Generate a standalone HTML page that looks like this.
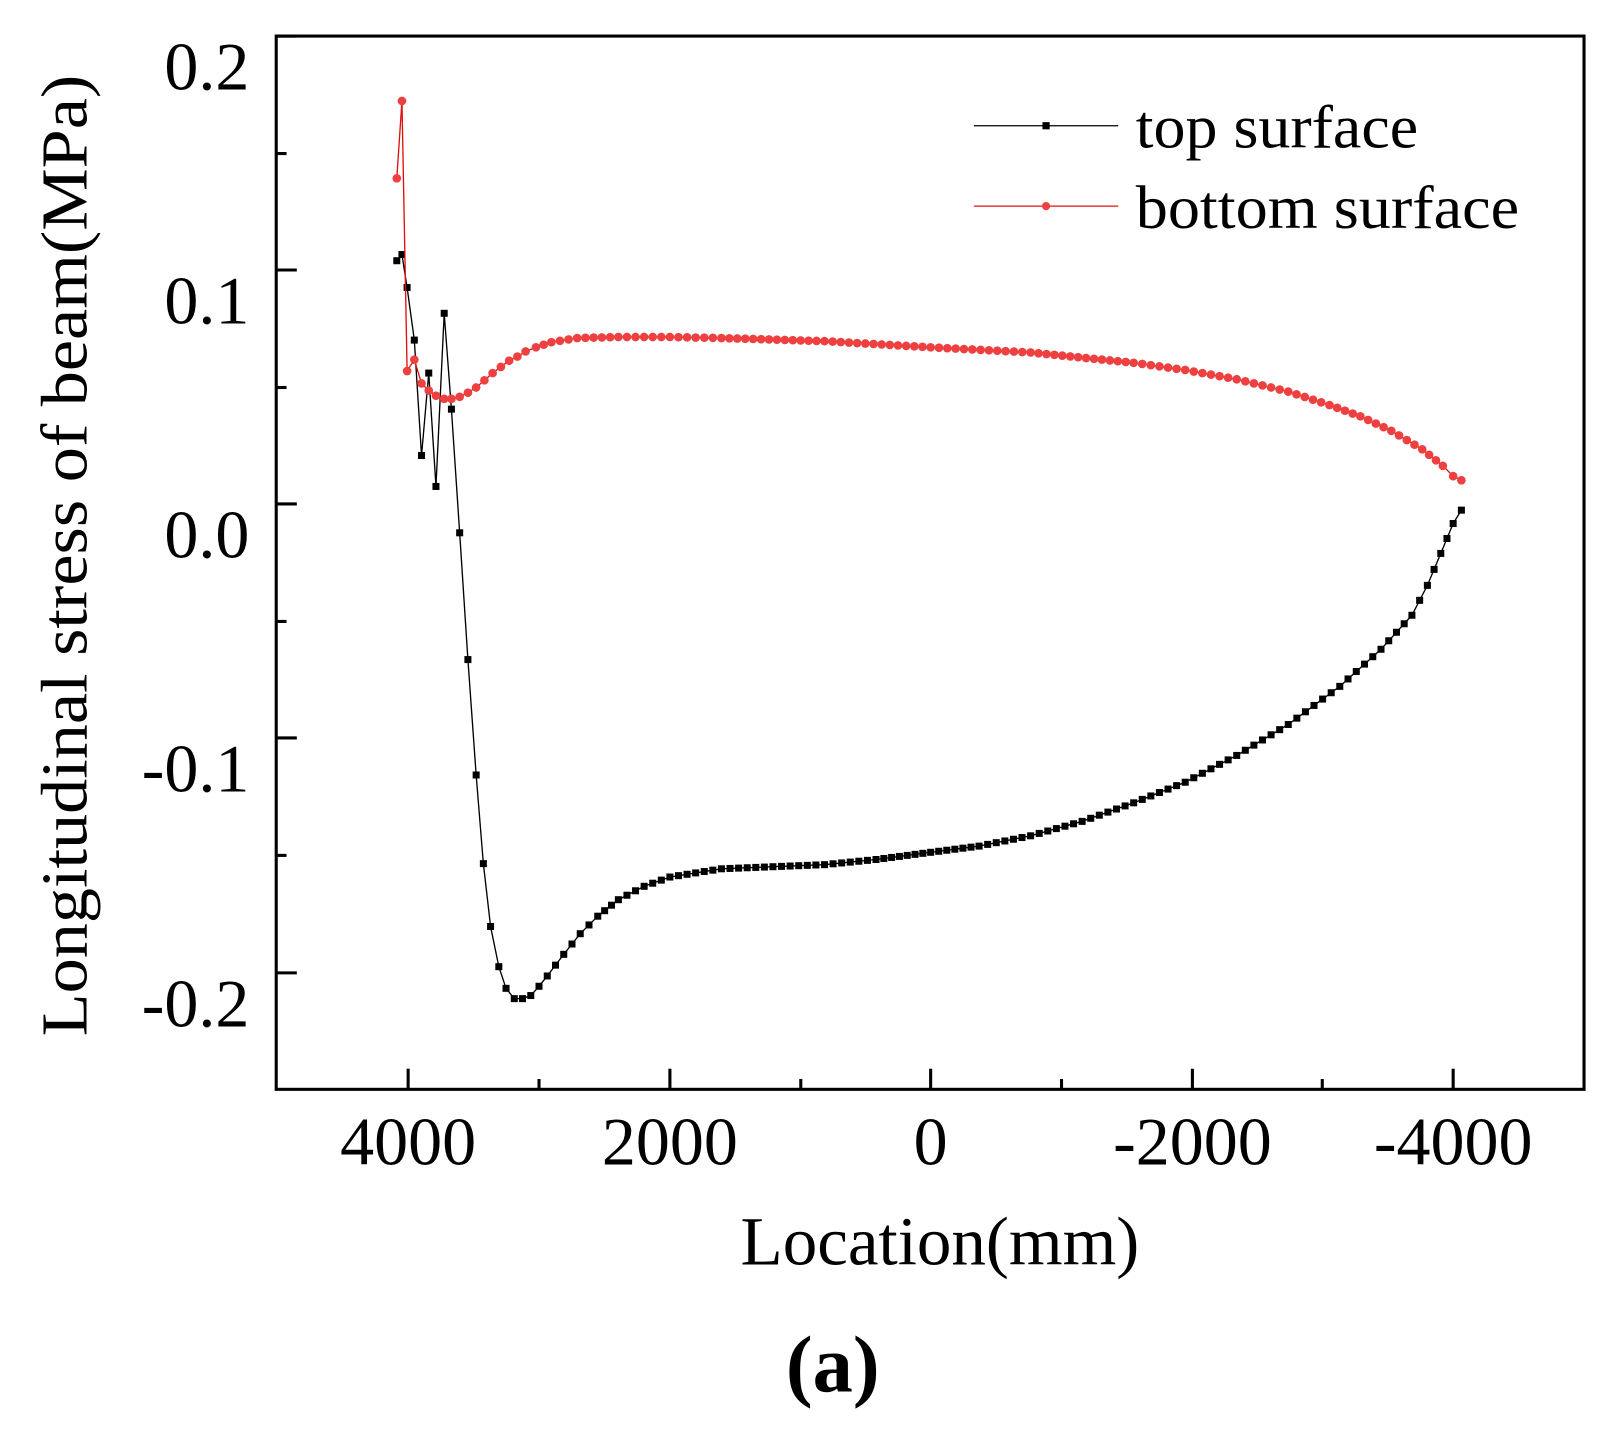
<!DOCTYPE html>
<html><head><meta charset="utf-8"><style>
html,body{margin:0;padding:0;background:#fff;}
svg{display:block;}
text{font-family:"Liberation Serif",serif;fill:#000;}
</style></head><body>
<svg id="s" width="1616" height="1432" viewBox="0 0 1568 1389.5" xmlns="http://www.w3.org/2000/svg">
<rect x="268" y="35" width="1269" height="1022" fill="none" stroke="#000" stroke-width="3"/>
<g stroke="#000" stroke-width="3">
<line x1="268" y1="35" x2="288" y2="35"/>
<line x1="268" y1="262" x2="288" y2="262"/>
<line x1="268" y1="489" x2="288" y2="489"/>
<line x1="268" y1="716" x2="288" y2="716"/>
<line x1="268" y1="944" x2="288" y2="944"/>
<line x1="268" y1="149" x2="278" y2="149"/>
<line x1="268" y1="376" x2="278" y2="376"/>
<line x1="268" y1="603" x2="278" y2="603"/>
<line x1="268" y1="830" x2="278" y2="830"/>
<line x1="396" y1="1057" x2="396" y2="1037"/>
<line x1="650" y1="1057" x2="650" y2="1037"/>
<line x1="903" y1="1057" x2="903" y2="1037"/>
<line x1="1157" y1="1057" x2="1157" y2="1037"/>
<line x1="1410" y1="1057" x2="1410" y2="1037"/>
<line x1="523" y1="1057" x2="523" y2="1047"/>
<line x1="777" y1="1057" x2="777" y2="1047"/>
<line x1="1030" y1="1057" x2="1030" y2="1047"/>
<line x1="1283" y1="1057" x2="1283" y2="1047"/>
</g>
<g font-size="66" text-anchor="end">
<text x="242" y="87">0.2</text>
<text x="242" y="314">0.1</text>
<text x="242" y="541">0.0</text>
<text x="242" y="768">-0.1</text>
<text x="242" y="996">-0.2</text>
</g>
<g font-size="66" text-anchor="middle">
<text x="396" y="1130">4000</text>
<text x="650" y="1130">2000</text>
<text x="903" y="1130">0</text>
<text x="1157" y="1130">-2000</text>
<text x="1410" y="1130">-4000</text>
<text x="912" y="1227" font-size="67">Location(mm)</text>
<text x="808" y="1350" font-size="78" font-weight="bold">(a)</text>
</g>
<text transform="translate(84,539) rotate(-90)" text-anchor="middle" font-size="64" textLength="933" lengthAdjust="spacingAndGlyphs">Longitudinal stress of  beam(MPa)</text>
<line x1="945" y1="122" x2="1085" y2="122" stroke="#000" stroke-width="1.2"/>
<rect x="1011.5" y="118.5" width="7" height="7" fill="#000"/>
<line x1="945" y1="200" x2="1085" y2="200" stroke="#e01010" stroke-width="1.2"/>
<circle cx="1015" cy="200" r="4" fill="#ee4040"/>
<text x="1102" y="143" font-size="60" textLength="274" lengthAdjust="spacingAndGlyphs">top surface</text>
<text x="1102" y="221" font-size="60" textLength="372" lengthAdjust="spacingAndGlyphs">bottom surface</text>
<g id="g"></g>
</svg>
<script>
var NS="http://www.w3.org/2000/svg",g=document.getElementById('g');
function expand(pre,knots,step){var pts=pre.slice();for(var i=0;i<knots.length-1;i++){var a=knots[i],b=knots[i+1],n=Math.max(1,Math.round((b[0]-a[0])/step));for(var k=(i==0?0:1);k<=n;k++){var t=k/n;pts.push([a[0]+(b[0]-a[0])*t,a[1]+(b[1]-a[1])*t]);}}return pts;}
var top1=[[385,253],[390,247],[395,279],[402,330],[409,442],[416,362],[423,472],[431,304],[438,397],[446,517],[454,640],[462,752],[469,838],[476,899],[484,938],[491,959]];
var topK=[[499,969],[507,969],[515,966],[523,957],[531,947],[547,926],[563,906],[580,889],[600,873],[625,860],[650,851],[700,843],[750,841],[800,839],[850,834],[903,827],[950,821],[1000,811],[1050,797],[1100,779],[1150,759],[1200,733],[1250,703],[1300,666],[1340,630],[1370,597],[1385,568],[1398,537],[1410,508],[1418,495]];
var bot1=[[385,173],[390,98],[395,360],[402,349],[409,372],[416,379],[423,384]];
var botK=[[431,387],[438,387],[446,385],[454,381],[462,376],[470,369],[478,362],[486,356],[494,350],[502,346],[510,341],[520,337],[535,332],[560,328],[600,327],[650,327],[700,328],[800,331],[903,337],[1000,342],[1100,352],[1150,359],[1200,368],[1250,380],[1290,393],[1320,404],[1350,418],[1380,436],[1400,452],[1410,462],[1418,466]];
function draw(pts,color,lc,sq){var p=document.createElementNS(NS,'polyline');p.setAttribute('points',pts.map(function(q){return q.join(',')}).join(' '));p.setAttribute('fill','none');p.setAttribute('stroke',lc);p.setAttribute('stroke-width','1.3');g.appendChild(p);
pts.forEach(function(q){var e;if(sq){e=document.createElementNS(NS,'rect');e.setAttribute('x',q[0]-3.4);e.setAttribute('y',q[1]-3.4);e.setAttribute('width',6.8);e.setAttribute('height',6.8);}else{e=document.createElementNS(NS,'circle');e.setAttribute('cx',q[0]);e.setAttribute('cy',q[1]);e.setAttribute('r',4.2);}e.setAttribute('fill',color);g.appendChild(e);});}
draw(expand(top1,topK,7.8),'#000','#000',true);
draw(expand(bot1,botK,7.8),'#ee4040','#e01010',false);
</script>
</body></html>
